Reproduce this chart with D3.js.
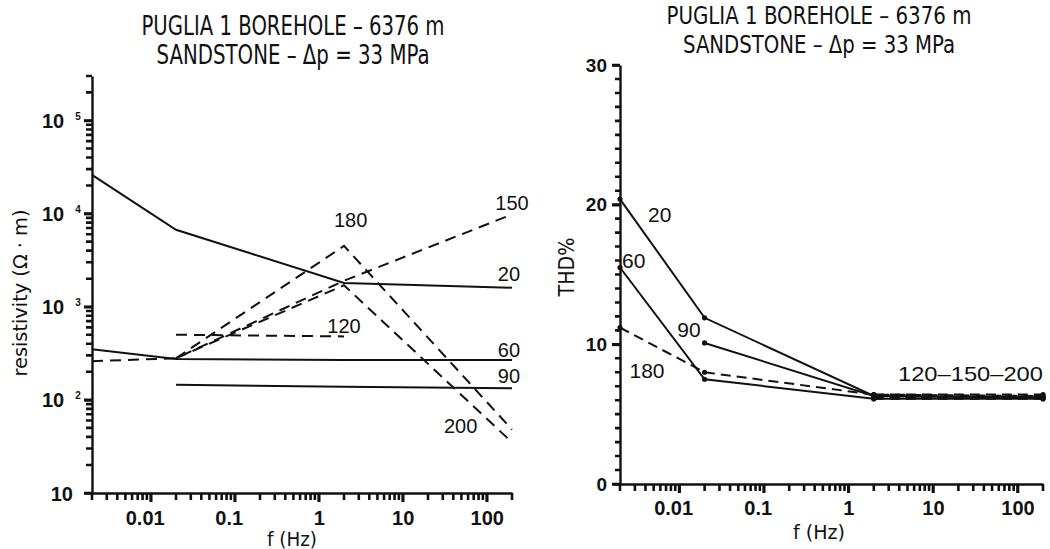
<!DOCTYPE html>
<html>
<head>
<meta charset="utf-8">
<script src="https://cdn.jsdelivr.net/npm/d3@7"></script>
<style>
  body { margin: 0; background: #fff; }
  svg { display: block; }
</style>
</head>
<body>
<svg id="chart" width="1050" height="549"></svg>
<script>
// frequencies of the measurements (Hz)
const freqHz = [0.002, 0.02, 2, 200];

// resistivity (ohm·m) per pressure step, null = not measured
const rho20  = [26000, 6700, 1800, 1600];
const rho60  = [350, 275, 268, 268];
const rho90  = [null, 145, 138, 133];
const rho120 = [null, 500, 480, null];
const rho150 = [260, 280, 1900, 9800];
const rho180 = [null, 280, 4500, 48];
const rho200 = [null, 280, 1700, 35];

// total harmonic distortion (%)
const thd20  = [20.4, 11.9, 6.3, 6.2];
const thd60  = [15.5, 7.5, 6.1, 6.1];
const thd90  = [null, 10.1, 6.3, 6.2];
const thd120 = [null, null, 6.2, 6.3];
const thd150 = [null, null, 6.4, 6.4];
const thd180 = [11.2, 8.0, 6.4, 6.3];
const thd200 = [null, null, 6.1, 6.1];

// axis ticks
const decadeTicks = [0.01, 0.1, 1, 10, 100];
const decadeLabels = ["0.01", "0.1", "1", "10", "100"];
const rhoTicks = [10, 100, 1000, 10000, 100000];
const thdTicks = [0, 10, 20, 30];

const titleLines = ["PUGLIA 1 BOREHOLE \u2013 6376 m", "SANDSTONE \u2013 \u0394p = 33 MPa"];

// ---- style ----
const ink = "#111";
const narrowFont = "'Liberation Sans Narrow','Arial Narrow','DejaVu Sans Condensed','Roboto Condensed',sans-serif";
const numFont = "'Liberation Sans',Arial,Helvetica,sans-serif";

const svg = d3.select("#chart");

const rhoSeries = [
  { name: "20", vals: rho20, dashed: false },
  { name: "60", vals: rho60, dashed: false },
  { name: "90", vals: rho90, dashed: false },
  { name: "120", vals: rho120, dashed: true },
  { name: "150", vals: rho150, dashed: true },
  { name: "180", vals: rho180, dashed: true },
  { name: "200", vals: rho200, dashed: true }
];
const thdSeries = [
  { name: "20", vals: thd20, dashed: false },
  { name: "60", vals: thd60, dashed: false },
  { name: "90", vals: thd90, dashed: false },
  { name: "120", vals: thd120, dashed: true },
  { name: "150", vals: thd150, dashed: true },
  { name: "180", vals: thd180, dashed: true },
  { name: "200", vals: thd200, dashed: true }
];

// minor ticks 2..9 per decade inside a domain
function minorTicks(lo, hi) {
  const out = [];
  for (let e = Math.floor(Math.log10(lo)); e <= Math.ceil(Math.log10(hi)); e++) {
    for (let m = 2; m <= 9; m++) {
      const v = m * Math.pow(10, e);
      if (v >= lo * 0.999 && v <= hi * 1.001) out.push(v);
    }
  }
  return out;
}

function toPoints(vals) {
  return freqHz.map((f, i) => ({ f, v: vals[i] }));
}

// tick marks as one path, placed from the scale (outside the plot)
function tickMarks(scale, values, orient, at, len) {
  const d = values.map(v => orient === "bottom"
    ? `M${scale(v)},${at}V${at + len}`
    : `M${at},${scale(v)}H${at - len}`).join("");
  svg.append("path")
    .attr("d", d)
    .attr("fill", "none")
    .attr("stroke", ink)
    .attr("stroke-width", 2.6);
}

function styleAxis(g) {
  g.select(".domain").attr("stroke", ink).attr("stroke-width", 2.4);
  g.selectAll(".tick line").attr("stroke", ink).attr("stroke-width", 2.6);
}

function drawTitle(cx, size, baselines, lengths) {
  titleLines.forEach((t, i) => {
    svg.append("text")
      .attr("x", cx).attr("y", baselines[i])
      .attr("text-anchor", "middle")
      .attr("font-family", narrowFont)
      .attr("font-size", size)
      .attr("textLength", lengths[i])
      .attr("lengthAdjust", "spacingAndGlyphs")
      .attr("fill", ink)
      .text(t);
  });
}

function drawFreqAxis(x, y0, pad) {
  tickMarks(x, minorTicks(...x.domain()), "bottom", y0, 7);
  tickMarks(x, decadeTicks, "bottom", y0, 9);
  const g = svg.append("g").attr("transform", `translate(0,${y0})`)
    .call(d3.axisBottom(x).tickValues(decadeTicks).tickSize(9).tickSizeOuter(0).tickPadding(pad)
      .tickFormat((d, i) => decadeLabels[i]));
  styleAxis(g);
  g.selectAll(".tick text")
    .attr("font-family", numFont).attr("font-size", 20).attr("font-weight", "bold")
    .attr("fill", ink)
    .attr("dx", d => d < 1 ? -6 : 0);
}

// ================= left panel: resistivity =================
const xL = d3.scaleLog().domain([0.002, 200]).range([92, 512]);
const yL = d3.scaleLog().domain([10, 3e5]).range([493, 76]);

drawTitle(293, 26, [35, 64], [303, 273]);

// y axis
{
  tickMarks(yL, minorTicks(...yL.domain()), "left", xL.range()[0], 6);
  tickMarks(yL, rhoTicks, "left", xL.range()[0], 8);
  const g = svg.append("g").attr("transform", `translate(${xL.range()[0]},0)`)
    .call(d3.axisLeft(yL).tickValues(rhoTicks).tickSize(8).tickSizeOuter(0).tickFormat(() => ""));
  styleAxis(g);
  g.selectAll(".tick").each(function (d) {
    const exp = Math.round(Math.log10(d));
    const t = d3.select(this).append("text")
      .attr("font-family", numFont).attr("font-size", 20).attr("font-weight", "bold")
      .attr("fill", ink).attr("dy", "0.35em");
    if (exp === 1) {
      t.attr("x", -19).attr("text-anchor", "end").text("10");
    } else {
      t.attr("x", -50).attr("text-anchor", "start").text("10");
      t.append("tspan").attr("dx", 11).attr("dy", -8).attr("font-size", 10).text(exp);
    }
  });
}
drawFreqAxis(xL, yL.range()[0], 9);

// axis titles
svg.append("text")
  .attr("x", 292).attr("y", 546).attr("text-anchor", "middle")
  .attr("font-family", narrowFont).attr("font-size", 19)
  .attr("textLength", 50).attr("lengthAdjust", "spacingAndGlyphs")
  .attr("fill", ink).text("f (Hz)");
svg.append("text")
  .attr("transform", "translate(27,293) rotate(-90)")
  .attr("text-anchor", "middle")
  .attr("font-family", narrowFont).attr("font-size", 20)
  .attr("textLength", 167).attr("lengthAdjust", "spacingAndGlyphs")
  .attr("fill", ink).text("resistivity (\u03A9 \u00B7 m)");

const lineL = d3.line().defined(d => d.v != null).x(d => xL(d.f)).y(d => yL(d.v));
svg.append("g").selectAll("path")
  .data(rhoSeries)
  .join("path")
  .attr("d", s => lineL(toPoints(s.vals)))
  .attr("fill", "none")
  .attr("stroke", ink)
  .attr("stroke-width", 2)
  .attr("stroke-dasharray", s => s.dashed ? "11,7" : null);

// curve labels (anchored in data space)
const rhoLabelAt = [
  { t: "150", f: 200, v: 11000 },
  { t: "20", f: 184, v: 1870 },
  { t: "60", f: 184, v: 288 },
  { t: "90", f: 184, v: 152 },
  { t: "200", f: 49, v: 44 },
  { t: "120", f: 2, v: 525 },
  { t: "180", f: 2.4, v: 7100 }
];
svg.append("g").selectAll("text")
  .data(rhoLabelAt)
  .join("text")
  .attr("x", d => xL(d.f)).attr("y", d => yL(d.v))
  .attr("text-anchor", "middle")
  .attr("font-family", numFont).attr("font-size", 20)
  .attr("fill", ink)
  .text(d => d.t);

// ================= right panel: THD =================
const xR = d3.scaleLog().domain([0.002, 200]).range([620, 1043]);
const yR = d3.scaleLinear().domain([0, 30]).range([484, 65]);

drawTitle(819, 24, [24, 53], [305, 272]);

{
  tickMarks(yR, d3.range(0, 31).filter(v => v % 10 !== 0), "left", xR.range()[0], 5);
  tickMarks(yR, thdTicks, "left", xR.range()[0], 8);
  const g = svg.append("g").attr("transform", `translate(${xR.range()[0]},0)`)
    .call(d3.axisLeft(yR).tickValues(thdTicks).tickSize(8).tickSizeOuter(0).tickPadding(5));
  styleAxis(g);
  g.selectAll(".tick text")
    .attr("font-family", numFont).attr("font-size", 19).attr("font-weight", "bold").attr("fill", ink);
}
drawFreqAxis(xR, yR.range()[0], 8);

svg.append("text")
  .attr("x", 819).attr("y", 539).attr("text-anchor", "middle")
  .attr("font-family", narrowFont).attr("font-size", 20)
  .attr("textLength", 52).attr("lengthAdjust", "spacingAndGlyphs")
  .attr("fill", ink).text("f (Hz)");
svg.append("text")
  .attr("transform", "translate(574,267) rotate(-90)")
  .attr("text-anchor", "middle")
  .attr("font-family", narrowFont).attr("font-size", 21)
  .attr("textLength", 59).attr("lengthAdjust", "spacingAndGlyphs")
  .attr("fill", ink).text("THD%");

const lineR = d3.line().defined(d => d.v != null).x(d => xR(d.f)).y(d => yR(d.v));
const gR = svg.append("g");
gR.selectAll("path")
  .data(thdSeries)
  .join("path")
  .attr("d", s => lineR(toPoints(s.vals)))
  .attr("fill", "none")
  .attr("stroke", ink)
  .attr("stroke-width", 2)
  .attr("stroke-dasharray", s => s.dashed ? "10,6" : null);

gR.selectAll("circle")
  .data(thdSeries.flatMap(s => toPoints(s.vals).filter(p => p.v != null)))
  .join("circle")
  .attr("cx", d => xR(d.f)).attr("cy", d => yR(d.v))
  .attr("r", 2.6)
  .attr("fill", ink);

const thdLabelAt = [
  { t: "20", f: 0.0059, v: 18.75, anchor: "middle" },
  { t: "60", f: 0.0029, v: 15.5, anchor: "middle" },
  { t: "90", f: 0.0131, v: 10.5, anchor: "middle" },
  { t: "180", f: 0.00417, v: 7.6, anchor: "middle" },
  { t: "120\u2013150\u2013200", f: 200, v: 7.4, anchor: "end" }
];
gR.selectAll("text")
  .data(thdLabelAt)
  .join("text")
  .attr("x", d => xR(d.f)).attr("y", d => yR(d.v))
  .attr("text-anchor", d => d.anchor)
  .attr("font-family", numFont).attr("font-size", 21)
  .attr("fill", ink)
  .attr("textLength", d => d.t.length > 5 ? 145 : null)
  .attr("lengthAdjust", "spacingAndGlyphs")
  .text(d => d.t);
</script>
</body>
</html>
